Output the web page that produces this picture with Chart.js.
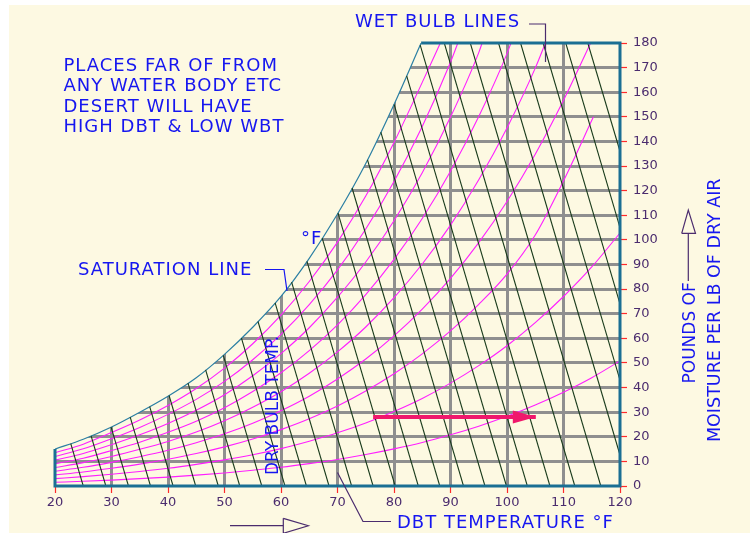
<!DOCTYPE html>
<html><head><meta charset="utf-8">
<script src="https://cdn.jsdelivr.net/npm/chart.js@4.4.1/dist/chart.umd.min.js"></script>
<style>html,body{margin:0;padding:0;background:#fff;overflow:hidden}canvas{display:block}</style>
</head><body>
<canvas id="c" width="750" height="533"></canvas>
<script>
// ---- DATA ----
const dbtTicks = [20, 30, 40, 50, 60, 70, 80, 90, 100, 110, 120];
const moistureTicks = [0, 10, 20, 30, 40, 50, 60, 70, 80, 90, 100, 110, 120, 130, 140, 150, 160, 170, 180];

// saturation line (DBT °F, moisture)
const satX = [20, 25, 30, 35, 40, 45, 50, 55, 60, 65, 70, 75, 80, 84.8];
const satY = [15, 19, 24, 30, 36.5, 44, 53.5, 64.5, 77, 92.5, 110.5, 131, 155, 180];

// relative humidity curves (magenta), sampled at rhX
const rhX = [20, 25, 30, 35, 40, 45, 50, 55, 60, 65, 70, 75, 80, 85, 90, 95, 100, 105, 110, 115, 120];
const rh10 = [1.5, 1.9, 2.4, 3.0, 3.6, 4.4, 5.3, 6.4, 7.6, 9.1, 10.8, 12.8, 15.1, 17.7, 20.8, 24.3, 28.3, 32.9, 38.1, 44.0, 50.8];
const rh20 = [3.0, 3.8, 4.8, 5.9, 7.2, 8.8, 10.6, 12.7, 15.2, 18.2, 21.6, 25.6, 30.3, 35.6, 41.8, 48.9, 57.0, 66.4, 77.0, 89.0, 102.8];
const rh30 = [4.5, 5.7, 7.2, 8.9, 10.9, 13.2, 15.9, 19.1, 22.9, 27.3, 32.5, 38.6, 45.6, 53.7, 63.0, 73.8, 86.1, 102, 124];
const rh40 = [6.0, 7.6, 9.6, 11.9, 14.5, 17.6, 21.2, 25.5, 30.6, 36.5, 43.5, 51.6, 61.0, 71.9, 84.4, 98.9, 115.6, 134.8, 156.7];
const rh50 = [7.5, 9.5, 12.0, 14.9, 18.1, 21.9, 26.5, 32.0, 38.3, 45.8, 54.5, 64.6, 76.5, 90.2, 106.0, 124.4, 145.5, 169.8];
const rh60 = [9.0, 11.3, 14.4, 17.8, 21.8, 26.3, 31.8, 38.4, 46.0, 55.0, 65.5, 77.8, 92.1, 108.7, 127.9, 150.1, 175.7];
const rh70 = [10.5, 13.2, 16.8, 20.8, 25.4, 30.8, 37.1, 44.8, 53.8, 64.3, 76.7, 91.0, 107.8, 127.3, 149.9, 176.1];
const rh80 = [12.0, 15.1, 19.2, 23.8, 29.1, 35.2, 42.5, 51.3, 61.6, 73.7, 87.8, 104.4, 123.7, 146.1, 172.2];
const rh90 = [13.5, 17.0, 21.7, 26.8, 32.7, 39.6, 47.9, 57.8, 69.4, 83.1, 99.1, 117.8, 139.6, 164.0];
// where each curve ends (null = ends on the last rhX sample)
const rhEndX = [null, null, 115.3, 114.8, 106.8, 100.7, 95.6, 91.3, 88.2];
const rhEndY = [null, null, 150, 180, 180, 180, 180, 180, 180];

// wet bulb lines (dark green): start on saturation line / top, end on bottom / right edge
const wbStartX = [22.79, 26.39, 29.93, 33.31, 36.76, 40.19, 43.54, 46.66, 49.79, 53.0, 55.93, 58.96, 61.88, 64.6, 67.29, 70.09, 72.58, 75.31, 77.67, 80.02, 82.24, 84.64, 88.9, 93.5, 98.5, 102.4, 106.4, 110.4, 114.3];
const wbStartY = [17.23, 20.39, 23.93, 27.97, 32.29, 36.78, 41.81, 47.15, 53.1, 60.1, 66.83, 74.4, 82.83, 91.26, 100.73, 110.87, 121.08, 132.5, 143.8, 155.1, 166.66, 179.17, 180, 180, 180, 180, 180, 180, 180];
const wbEndX = [25, 29, 33, 36.9, 40.9, 44.9, 48.9, 52.7, 56.6, 60.7, 64.5, 68.5, 72.5, 76.3, 80.2, 84.3, 88.1, 92.3, 96.1, 99.9, 103.6, 107.6, 112.0, 116.6, 120, 120, 120, 120, 120];
const wbEndY = [0, 0, 0, 0, 0, 0, 0, 0, 0, 0, 0, 0, 0, 0, 0, 0, 0, 0, 0, 0, 0, 0, 0, 0, 12.6, 43, 74, 105, 136];

// red process arrow
const arrowX = [76.3, 105.1];
const arrowY = [28, 28];

// ---- STYLE ----
const CREAM = '#fdf9e2';
const BLUE = '#1616f0';
const PURPLE = '#4b2c6e';
const GRID = '#8f8f8f';
const TEAL = '#1a6f93';
const MAGENTA = '#ff1eff';
const WBCOL = '#183a1a';
const ARROW = '#f0186c';
const FONT = 'DejaVu Sans';

const pts = (xs, ys) => xs.map((x, i) => ({x, y: ys[i]})).filter(p => p.y !== null && p.y !== undefined);

const datasets = [];
datasets.push({
  label: 'saturation', data: pts(satX, satY), showLine: true, pointRadius: 0,
  borderColor: '#2b7fa3', borderWidth: 1.2, fill: 'end', backgroundColor: CREAM,
  cubicInterpolationMode: 'monotone', order: 5
});
[rh10, rh20, rh30, rh40, rh50, rh60, rh70, rh80, rh90].forEach((arr, k) => {
  const d = pts(rhX.slice(0, arr.length), arr);
  if (rhEndX[k] !== null) d.push({x: rhEndX[k], y: rhEndY[k]});
  datasets.push({label: 'rh' + (k + 1) * 10, data: d, showLine: true, pointRadius: 0,
    borderColor: MAGENTA, borderWidth: 1.1, fill: false, cubicInterpolationMode: 'monotone', order: 4});
});
wbStartX.forEach((x, i) => {
  datasets.push({label: 'wb' + i, data: [{x, y: wbStartY[i]}, {x: wbEndX[i], y: wbEndY[i]}],
    showLine: true, pointRadius: 0, borderColor: WBCOL, borderWidth: 1.1, fill: false, order: 3});
});
// plot frame: left stub, bottom, right, top (from axis limits and saturation ends)
const xMin = dbtTicks[0], xMax = dbtTicks[dbtTicks.length - 1];
const yMin = moistureTicks[0], yMax = moistureTicks[moistureTicks.length - 1];
datasets.push({label: 'frame', data: [
    {x: xMin, y: satY[0]}, {x: xMin, y: yMin}, {x: xMax, y: yMin}, {x: xMax, y: yMax}, {x: satX[satX.length - 1], y: yMax}],
  showLine: true, pointRadius: 0, borderColor: TEAL, borderWidth: 3, fill: false, clip: false,
  borderJoinStyle: 'miter', order: 1});
datasets.push({label: 'arrow', data: pts(arrowX, arrowY), showLine: true, pointRadius: 0,
  borderColor: ARROW, borderWidth: 4, fill: false, order: 0});

const bgPlugin = {
  id: 'bg',
  beforeDraw(chart) {
    const c = chart.ctx;
    c.save();
    c.fillStyle = '#ffffff'; c.fillRect(0, 0, chart.width, chart.height);
    c.fillStyle = CREAM; c.fillRect(9, 5, chart.width - 9, chart.height - 5);
    c.restore();
  }
};

function poly(c, p, color, w) {
  c.beginPath(); c.moveTo(p[0][0], p[0][1]);
  for (let i = 1; i < p.length; i++) c.lineTo(p[i][0], p[i][1]);
  c.strokeStyle = color; c.lineWidth = w; c.stroke();
}

const annoPlugin = {
  id: 'anno',
  afterDatasetsDraw(chart) {
    const c = chart.ctx, xs = chart.scales.x, ys = chart.scales.y;
    // arrow head
    const tx = xs.getPixelForValue(arrowX[1]), ty = ys.getPixelForValue(arrowY[1]);
    c.save();
    c.fillStyle = ARROW;
    c.beginPath(); c.moveTo(tx, ty); c.lineTo(tx - 23, ty - 6.5); c.lineTo(tx - 23, ty + 6.5); c.closePath(); c.fill();
    c.restore();
  },
  afterDraw(chart) {
    const c = chart.ctx;
    c.save();
    c.fillStyle = BLUE;
    c.textBaseline = 'alphabetic';
    c.font = '18px "' + FONT + '"';
    c.letterSpacing = '1px';
    c.fillText('WET BULB LINES', 355, 27);
    c.fillText('PLACES FAR OF FROM', 63.5, 71);
    c.fillText('ANY WATER BODY ETC', 63.5, 91.3);
    c.fillText('DESERT WILL HAVE', 63.5, 111.7);
    c.fillText('HIGH DBT & LOW WBT', 63.5, 132);
    c.fillText('°F', 301, 244);
    c.fillText('SATURATION LINE', 78, 275);
    c.fillText('DBT TEMPERATURE °F', 397, 528);
    c.letterSpacing = '0px';
    // rotated texts
    const vtext = (t, x, y, size) => {
      c.save(); c.translate(x, y); c.rotate(-Math.PI / 2);
      c.font = size + 'px "' + FONT + '"'; c.fillText(t, 0, 0); c.restore();
    };
    vtext('DRY BULB TEMP.', 278, 475, 17);
    vtext('POUNDS OF', 695, 383.5, 17);
    vtext('MOISTURE PER LB OF DRY AIR', 720, 442, 17.5);
    // leaders
    poly(c, [[529, 24], [545.5, 24], [545.5, 62]], PURPLE, 1.2);
    poly(c, [[265, 269.5], [284, 269.5], [287, 291]], BLUE, 1.2);
    poly(c, [[337.5, 472.5], [363, 521.5], [391, 521.5]], PURPLE, 1.2);
    // bottom outline arrow
    poly(c, [[230, 525.7], [283.3, 525.7]], PURPLE, 1.2);
    poly(c, [[283.3, 518.3], [308.3, 525.7], [283.3, 533.3], [283.3, 518.3]], PURPLE, 1.2);
    // right outline arrow
    poly(c, [[688.3, 281], [688.3, 233.3]], PURPLE, 1.2);
    poly(c, [[681.7, 233.3], [688.3, 210], [695.5, 233.3], [681.7, 233.3]], PURPLE, 1.2);
    c.restore();
  }
};

const tickFont = {family: FONT, size: 13};
new Chart(document.getElementById('c'), {
  type: 'scatter',
  data: {datasets},
  options: {
    responsive: false, animation: false, events: [],
    layout: {padding: {left: 55, top: 43, right: 0, bottom: 0}},
    plugins: {legend: {display: false}, tooltip: {enabled: false}, filler: {drawTime: 'beforeDatasetsDraw'}},
    elements: {point: {radius: 0}, line: {tension: 0}},
    scales: {
      x: {
        type: 'linear', min: xMin, max: xMax,
        afterFit(s) { s.height = 47; },
        afterBuildTicks(s) { s.ticks = dbtTicks.map(v => ({value: v})); },
        ticks: {autoSkip: false, maxRotation: 0, padding: 2, color: PURPLE, font: tickFont},
        grid: {
          color: (ctx) => (ctx.tick && (ctx.tick.value === xMin || ctx.tick.value === xMax)) ? 'rgba(0,0,0,0)' : GRID,
          lineWidth: 3, tickColor: '#ff2a2a', tickWidth: 1.2, tickLength: 7, drawTicks: true
        },
        border: {display: false}
      },
      y: {
        type: 'linear', position: 'right', min: yMin, max: yMax,
        afterFit(s) { s.width = 130; },
        afterBuildTicks(s) { s.ticks = moistureTicks.map(v => ({value: v})); },
        ticks: {autoSkip: false, padding: 6, color: PURPLE, font: tickFont},
        grid: {
          color: (ctx) => (ctx.tick && (ctx.tick.value === yMin || ctx.tick.value === yMax)) ? 'rgba(0,0,0,0)' : GRID,
          lineWidth: 3, tickColor: '#ff2a2a', tickWidth: 1.2, tickLength: 7, drawTicks: true
        },
        border: {display: false}
      }
    }
  },
  plugins: [bgPlugin, annoPlugin]
});
</script>
</body></html>
